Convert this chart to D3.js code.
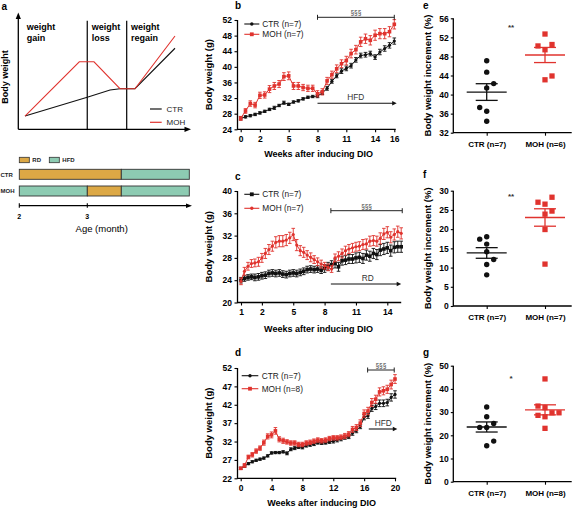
<!DOCTYPE html>
<html><head><meta charset="utf-8">
<script src="https://cdn.jsdelivr.net/npm/d3@7"></script>
<style>body{margin:0;background:#fff}svg{display:block}</style>
</head><body><svg id="c" width="576" height="508"></svg>
<script>
// ---------------- DATA ----------------
// panel a (schematic)
const schemCtrT = [0, 4.15, 5.67, 6.33, 7.33, 10];
const schemCtrW = [1.16, 2.8, 3.44, 3.55, 3.55, 7.09];
const schemMohT = [0, 3.62, 4.6, 6.33, 7.33, 10];
const schemMohW = [1.16, 5.91, 5.91, 3.55, 3.55, 8.16];
const phaseBounds = [4.15, 6.78];
const phaseLabels = [["weight","gain"],["weight","loss"],["weight","regain"]];
const monthTicks = [2, 3];
const dietCtr = [{diet:"RD",from:2,to:3.5},{diet:"HFD",from:3.5,to:4.5}];
const dietMoh = [{diet:"HFD",from:2,to:3},{diet:"RD",from:3,to:3.5},{diet:"HFD",from:3.5,to:4.5}];

// panel b
const bWeeks = [0,0.5,1,1.5,2,2.5,3,3.5,4,4.5,5,5.5,6,6.5,7,7.5,8,8.5,9,9.5,10,10.5,11,11.5,12,12.5,13,13.5,14,14.5,15,15.5,16];
const bCtr = [26.8,27.2,27.5,27.8,28.2,28.6,29.1,29.5,30.1,30.8,30.4,31.0,31.3,31.8,32.2,32.4,32.5,33.3,34.5,36.3,37.7,38.9,39.6,40.3,41.8,42.9,43.1,43.4,42.5,43.8,44.7,45.5,46.6];
const bCtrSem = [0.4,0.3,0.3,0.3,0.3,0.3,0.3,0.4,0.3,0.4,0.3,0.3,0.3,0.3,0.3,0.3,0.4,0.4,0.5,0.5,0.5,0.6,0.6,0.6,0.6,0.6,0.6,0.6,0.6,0.7,0.7,0.7,0.8];
const bMoh = [26.8,28.7,30.6,30.2,32.7,32.8,34.3,35.1,35.6,37.5,37.7,35.1,35.1,34.7,34.5,34.5,33.1,33.6,36.4,38.0,39.5,40.8,41.6,43.4,44.4,46.4,47.2,46.8,48.1,48.5,48.5,49.0,50.9];
const bMohSem = [0.5,0.6,0.7,0.7,0.8,0.8,0.9,0.9,0.9,1.0,1.0,0.9,0.9,0.8,0.8,0.8,0.8,0.8,0.9,0.9,1.0,1.0,1.1,1.1,1.1,1.2,1.2,1.2,1.3,1.3,1.3,1.3,1.2];
const bXTicks = [0,2,5,8,11,14,16];
const bXLabels = ["0","2","5","8","11","14","16"];
const bYTicks = [24,28,32,36,40,44,48,52];

// panel c
const cWeeks = [0,0.33,0.67,1,1.33,1.67,2,2.33,2.67,3,3.33,3.67,4,4.33,4.67,5,5.33,5.67,6,6.33,6.67,7,7.33,7.67,8,8.33,8.67,9,9.33,9.67,10,10.33,10.67,11,11.33,11.67,12,12.33,12.67,13,13.33,13.67,14,14.33,14.67,15,15.33];
const cCtr = [24.0,24.3,24.5,24.6,24.5,24.6,24.8,24.9,25.2,25.3,25.2,25.3,25.1,25.0,25.2,25.3,25.2,25.4,25.6,25.9,26.0,25.9,26.0,25.8,26.1,26.5,26.8,27.0,26.4,27.5,27.6,27.8,27.8,28.0,28.1,27.9,28.5,28.3,28.8,28.6,29.4,29.6,29.8,29.3,29.9,30.0,30.0];
const cCtrSem = [0.5,0.5,0.5,0.5,0.6,0.6,0.6,0.6,0.6,0.6,0.6,0.6,0.6,0.6,0.6,0.6,0.6,0.6,0.6,0.6,0.6,0.6,0.6,0.6,0.7,0.7,0.7,0.8,0.8,0.8,0.8,0.8,0.8,0.9,0.9,0.9,0.9,0.9,0.9,0.9,1.0,1.0,1.0,1.0,1.0,1.0,1.0];
const cMoh = [23.8,25.6,26.5,27.0,27.1,27.3,28.0,28.8,29.5,30.1,30.8,31.0,31.0,31.2,31.6,32.2,30.3,29.3,29.0,28.5,28.1,27.7,27.3,26.9,26.6,26.3,26.0,28.0,28.3,28.8,29.3,29.6,29.8,30.0,30.1,30.4,30.5,31.0,31.1,31.0,31.5,32.3,32.6,31.7,32.2,32.7,32.4];
const cMohSem = [0.6,0.7,0.7,0.7,0.7,0.8,0.8,0.9,0.9,0.9,1.0,1.0,1.0,1.0,1.0,1.1,1.0,0.9,0.9,0.8,0.8,0.7,0.7,0.7,0.6,0.6,0.6,0.7,0.8,0.8,0.8,0.8,0.8,0.8,0.8,0.9,0.9,0.9,0.9,0.9,1.0,1.0,1.0,1.0,1.0,1.0,1.0];
const cXTicks = [0,2,5,8,11,14];
const cXLabels = ["1","2","5","8","11","14"];
const cYTicks = [20,24,28,32,36,40];

// panel d
const dWeeks = [0,0.5,1,1.5,2,2.5,3,3.5,4,4.5,5,5.5,6,6.5,7,7.5,8,8.5,9,9.5,10,10.5,11,11.5,12,12.5,13,13.5,14,14.5,15,15.5,16,16.5,17,17.5,18,18.5,19,19.5,20];
const dCtr = [24.7,25.3,26.0,26.5,26.9,27.2,27.5,28.1,28.9,29.0,29.0,29.2,28.8,29.9,30.2,30.5,30.4,30.9,31.1,31.3,31.7,31.6,31.7,31.9,32.1,32.4,32.7,33.1,33.3,34.3,35.0,36.1,38.6,39.0,41.0,41.5,42.4,42.4,42.6,44.0,44.8];
const dCtrSem = [0.3,0.3,0.3,0.3,0.3,0.3,0.3,0.3,0.3,0.3,0.3,0.3,0.4,0.4,0.4,0.4,0.4,0.4,0.4,0.4,0.4,0.4,0.4,0.4,0.5,0.5,0.5,0.5,0.5,0.6,0.6,0.6,0.7,0.7,0.8,0.8,0.9,0.9,0.9,1.0,1.0];
const dMoh = [24.7,25.5,27.8,28.4,29.4,30.2,31.7,33.4,33.8,34.9,32.6,32.2,31.9,31.6,31.6,31.2,31.2,31.6,31.8,32.1,32.4,32.2,32.4,32.8,33.0,33.0,33.2,33.5,34.0,35.3,35.8,37.0,39.6,40.3,42.6,43.5,45.5,45.8,46.2,47.5,49.0];
const dMohSem = [0.3,0.5,0.5,0.6,0.6,0.6,0.7,0.7,0.8,0.9,0.7,0.7,0.6,0.6,0.6,0.6,0.6,0.6,0.6,0.6,0.6,0.6,0.6,0.6,0.6,0.6,0.6,0.7,0.7,0.8,0.8,0.9,1.0,1.0,1.1,1.1,1.1,1.1,1.1,1.2,1.2];
const dXTicks = [0,4,8,12,16,20];
const dXLabels = ["0","4","8","12","16","20"];
const dYTicks = [22,27,32,37,42,47,52];

// panels e, f, g (individual animals, % increment)
const eCtr = [34.4,36.5,41.4,42.3,37.3,44.7,47.1];
const eMoh = [43.1,43.9,49.4,50.2,50.5,52.7];
const eYTicks = [32,36,40,44,48,52,56];
const fCtr = [8.1,10.8,14.1,16.1,18.0,12.1,17.4];
const fMoh = [23.9,24.7,26.5,27.0,28.3,19.9,10.9];
const fYTicks = [0,5,10,15,20,25,30];
const gCtr = [15.5,23.4,25.1,23.4,17.5,28.0,32.2];
const gMoh = [23.0,28.0,29.7,28.6,29.7,31.9,32.6,44.3];
const gYTicks = [0,10,20,30,40,50];

// ---------------- DRAWING ----------------
const FONT = '"Liberation Sans", Arial, Helvetica, sans-serif';
const RED = "#e0332e", BLK = "#111111";
const RD_COL = "#dca845", HFD_COL = "#8dcbb2";
const svg = d3.select("#c");
svg.append("rect").attr("width",576).attr("height",508).attr("fill","#fff");

function T(g, x, y, s, o={}) {
  return g.append("text").attr("x",x).attr("y",y).text(s)
    .attr("font-family",FONT).attr("font-size",o.size||9)
    .attr("font-weight",o.bold?"bold":"normal")
    .attr("text-anchor",o.anchor||"start")
    .attr("fill",o.fill||"#000")
    .attr("transform",o.rot?`rotate(-90,${x},${y})`:null);
}
function L(g,x1,y1,x2,y2,c="#000",w=1.2){
  return g.append("line").attr("x1",x1).attr("y1",y1).attr("x2",x2).attr("y2",y2).attr("stroke",c).attr("stroke-width",w);
}
function marker(g, shape, cx, cy, color, s){
  if(shape==="square") g.append("rect").attr("x",cx-s/2).attr("y",cy-s/2).attr("width",s).attr("height",s).attr("fill",color);
  else g.append("circle").attr("cx",cx).attr("cy",cy).attr("r",s/2).attr("fill",color);
}

// ===== Panel a =====
(function(){
  const g = svg.append("g");
  T(g,1.5,10,"a",{size:10,bold:true});
  const xa = d3.scaleLinear().domain([0,10]).range([25,175]);
  const ya = d3.scaleLinear().domain([0,10]).range([129.3,15]);
  const ax0 = 18.3, ay0 = 129.3;
  L(g,ax0,ay0,ax0,18,"#000",1.3);
  L(g,ax0,ay0,186,ay0,"#000",1.3);
  g.append("path").attr("d",`M${ax0},12.5 L${ax0-2.6},19 L${ax0+2.6},19 Z`).attr("fill","#000");
  g.append("path").attr("d",`M191,${ay0} L184.5,${ay0-2.6} L184.5,${ay0+2.6} Z`).attr("fill","#000");
  phaseBounds.forEach(b=>L(g,xa(b),20.7,xa(b),ay0,"#000",1.2));
  phaseLabels.forEach((pl,i)=>{
    const x = i===0 ? ax0+8.4 : xa(phaseBounds[i-1])+4.4;
    T(g,x,29.5,pl[0],{size:9,bold:true});
    T(g,x,40.5,pl[1],{size:9,bold:true});
  });
  T(g,7.8,77,"Body weight",{size:9,bold:true,anchor:"middle",rot:true});
  const line = d3.line().x(d=>xa(d[0])).y(d=>ya(d[1]));
  g.append("path").attr("d",line(d3.zip(schemCtrT,schemCtrW))).attr("fill","none").attr("stroke",BLK).attr("stroke-width",1.1);
  g.append("path").attr("d",line(d3.zip(schemMohT,schemMohW))).attr("fill","none").attr("stroke",RED).attr("stroke-width",1.1);
  L(g,150,109,161.7,109,BLK,1.2); T(g,166.5,112,"CTR",{size:8,fill:"#222"});
  L(g,150,122.3,161.7,122.3,RED,1.2); T(g,166.5,125.3,"MOH",{size:8,fill:"#222"});

  // diet timeline
  const xm = d3.scaleLinear().domain([2,3]).range([19.3,87.3]);
  const col = {RD:RD_COL,HFD:HFD_COL};
  g.append("rect").attr("x",19.3).attr("y",157.3).attr("width",10).attr("height",5.4).attr("fill",RD_COL).attr("stroke","#333").attr("stroke-width",0.8);
  T(g,32.3,162.3,"RD",{size:6,bold:true,fill:"#222"});
  g.append("rect").attr("x",49.3).attr("y",157.3).attr("width",10).attr("height",5.4).attr("fill",HFD_COL).attr("stroke","#333").attr("stroke-width",0.8);
  T(g,62.3,162.3,"HFD",{size:6,bold:true,fill:"#222"});
  [[dietCtr,169.3,"CTR"],[dietMoh,186,"MOH"]].forEach(([segs,y0,lab])=>{
    segs.forEach(s=>g.append("rect").attr("x",xm(s.from)).attr("y",y0).attr("width",xm(s.to)-xm(s.from)).attr("height",10)
      .attr("fill",col[s.diet]).attr("stroke","#333").attr("stroke-width",0.9));
    T(g,0.5,y0+7.2,lab,{size:6,bold:true,fill:"#222"});
  });
  const ty = 205.7;
  L(g,xm(2),ty,187,ty,"#000",1.2);
  g.append("path").attr("d",`M192,${ty} L186,${ty-2.3} L186,${ty+2.3} Z`).attr("fill","#000");
  monthTicks.forEach(m=>{ L(g,xm(m),ty-2.5,xm(m),ty+2,"#000",1.1); T(g,xm(m),218.5,String(m),{size:7,bold:true,anchor:"middle"}); });
  T(g,101.7,232.3,"Age (month)",{size:9.5,anchor:"middle"});
})();

// ===== time-course panels =====
function timeCourse(p){
  const g = svg.append("g");
  const x = d3.scaleLinear().domain(p.xDomain).range(p.xRange);
  const y = d3.scaleLinear().domain(p.yDomain).range(p.yRange);
  const ax = 237.5, base = y(p.yDomain[0]), top = y(p.yDomain[1]);
  T(g,p.labelX,p.labelY,p.label,{size:10,bold:true});
  const ya = g.append("g").attr("transform",`translate(${ax},0)`)
    .call(d3.axisLeft(y).tickValues(p.yTicks).tickSize(3).tickPadding(2.5).tickFormat(d3.format("d")));
  const xa = g.append("g").attr("transform",`translate(0,${base})`)
    .call(d3.axisBottom(x).tickValues(p.xTicks).tickSize(3).tickPadding(3.5).tickFormat((d,i)=>p.xLabels[i]));
  [ya,xa].forEach(a=>{a.select(".domain").remove();
    a.attr("font-family",FONT).attr("font-size",8.5).attr("font-weight","bold").attr("color","#000");
    a.selectAll(".tick line").attr("stroke-width",1.1);});
  L(g,ax,top,ax,base+0.6,"#000",1.3);
  L(g,ax,base,x(p.xEnd),base,"#000",1.3);
  T(g,212,(top+base)/2,"Body weight (g)",{size:9.5,bold:true,anchor:"middle",rot:true});
  T(g,p.titleX,p.titleY,"Weeks after inducing DIO",{size:9,bold:true,anchor:"middle"});
  p.series.forEach(s=>{
    const pts = d3.zip(s.x,s.y,s.sem);
    const sg = g.append("g");
    sg.append("path").attr("d",d3.line().x(d=>x(d[0])).y(d=>y(d[1]))(pts)).attr("fill","none").attr("stroke",s.color).attr("stroke-width",1);
    pts.forEach(d=>{
      const cx=x(d[0]), y1=y(d[1]-d[2]), y2=y(d[1]+d[2]);
      L(sg,cx,y1,cx,y2,s.color,0.9); L(sg,cx-1.8,y1,cx+1.8,y1,s.color,0.9); L(sg,cx-1.8,y2,cx+1.8,y2,s.color,0.9);
      marker(sg,s.shape,cx,y(d[1]),s.color,s.shape==="square"?3.6:3.2);
    });
  });
  p.series.forEach((s,i)=>{
    const ly = p.legend.ys[i];
    L(g,p.legend.x1,ly,p.legend.x2,ly,s.color,1.1);
    marker(g,s.shape,(p.legend.x1+p.legend.x2)/2,ly,s.color,s.shape==="square"?3.8:3.4);
    T(g,p.legend.tx,ly+3,s.name,{size:8.3,fill:"#222"});
  });
  const bk = p.bracket, bx1=x(bk.from), bx2=x(bk.to);
  L(g,bx1,bk.y,bx2,bk.y,"#222",1); L(g,bx1,bk.y-2.5,bx1,bk.y+2.5,"#222",1); L(g,bx2,bk.y-2.5,bx2,bk.y+2.5,"#222",1);
  T(g,(bx1+bx2)/2,bk.y-2.2,"§§§",{size:6.5,anchor:"middle",fill:"#444"});
  const ar = p.arrow, a1=x(ar.from), a2=x(ar.to);
  L(g,a1,ar.y,a2-3,ar.y,"#111",1.1);
  g.append("path").attr("d",`M${a2},${ar.y} L${a2-4.5},${ar.y-2.2} L${a2-4.5},${ar.y+2.2} Z`).attr("fill","#111");
  T(g,ar.tx,ar.y-3,ar.label,{size:8.3,anchor:"middle",fill:"#333"});
}

timeCourse({label:"b",labelX:235,labelY:8.5,
  xDomain:[0,16],xRange:[240.7,394.3],yDomain:[24,52],yRange:[129.3,20],xEnd:16.15,
  xTicks:bXTicks,xLabels:bXLabels,yTicks:bYTicks,titleX:318.7,titleY:157.2,
  series:[{name:"CTR (n=7)",x:bWeeks,y:bCtr,sem:bCtrSem,color:BLK,shape:"circle"},
          {name:"MOH (n=7)",x:bWeeks,y:bMoh,sem:bMohSem,color:RED,shape:"square"}],
  legend:{x1:244.3,x2:259.3,tx:262.3,ys:[24,34.3]},
  bracket:{from:8,to:16,y:17.3},
  arrow:{from:8,to:16.25,y:103.3,label:"HFD",tx:355.7}
});
timeCourse({label:"c",labelX:235,labelY:179.5,
  xDomain:[0,15.33],xRange:[241,401.2],yDomain:[20,40],yRange:[302.5,191],xEnd:15.33,
  xTicks:cXTicks,xLabels:cXLabels,yTicks:cYTicks,titleX:318.5,titleY:331.5,
  series:[{name:"CTR (n=7)",x:cWeeks,y:cCtr,sem:cCtrSem,color:BLK,shape:"square"},
          {name:"MOH (n=7)",x:cWeeks,y:cMoh,sem:cMohSem,color:RED,shape:"circle"}],
  legend:{x1:244.3,x2:259.3,tx:262.3,ys:[194.3,208.3]},
  bracket:{from:8.6,to:15.43,y:210.7},
  arrow:{from:8.6,to:15.33,y:284,label:"RD",tx:367.7}
});
timeCourse({label:"d",labelX:235,labelY:355.7,
  xDomain:[0,20],xRange:[240.7,395],yDomain:[22,52],yRange:[478.3,368],xEnd:20.15,
  xTicks:dXTicks,xLabels:dXLabels,yTicks:dYTicks,titleX:321.7,titleY:505.5,
  series:[{name:"CTR (n=7)",x:dWeeks,y:dCtr,sem:dCtrSem,color:BLK,shape:"circle"},
          {name:"MOH (n=8)",x:dWeeks,y:dMoh,sem:dMohSem,color:RED,shape:"square"}],
  legend:{x1:241.7,x2:258.3,tx:261.7,ys:[375.7,388.7]},
  bracket:{from:16.45,to:19.9,y:370},
  arrow:{from:16.6,to:20.3,y:429,label:"HFD",tx:383.3}
});

// ===== scatter panels =====
function swarm(vals, y, d, thr){
  const placed=[]; let Lc=0,Rc=0;
  return vals.map(v=>{
    const py=y(v), pref=(Rc<=Lc)?1:-1, cands=[0];
    for(let k=1;k<=3;k++) cands.push(pref*k*d,-pref*k*d);
    for(const dx of cands){
      if(placed.every(q=>Math.hypot(q.dx-dx,q.py-py)>=thr)){
        placed.push({dx,py}); if(dx>0)Rc++; else if(dx<0)Lc++; return dx;
      }
    }
    return 0;
  });
}
function scatter(p){
  const g = svg.append("g");
  const y = d3.scaleLinear().domain(p.yDomain).range(p.yRange);
  const x = d3.scalePoint().domain(p.groups.map(d=>d.name)).range([486.7,545]);
  const ax=453.3, base=y(p.yDomain[0]), top=y(p.yDomain[1]);
  T(g,423,p.labelY,p.label,{size:10,bold:true});
  const ya = g.append("g").attr("transform",`translate(${ax},0)`)
    .call(d3.axisLeft(y).tickValues(p.yTicks).tickSize(2.5).tickPadding(2).tickFormat(d3.format("d")));
  const xa = g.append("g").attr("transform",`translate(0,${base})`)
    .call(d3.axisBottom(x).tickSize(3).tickPadding(5.5));
  [ya,xa].forEach(a=>{a.select(".domain").remove();
    a.attr("font-family",FONT).attr("font-size",8.5).attr("font-weight","bold").attr("color","#000");
    a.selectAll(".tick line").attr("stroke-width",1.1);});
  xa.selectAll("text").attr("font-size",8);
  L(g,ax,top,ax,base+0.6,"#000",1.3);
  L(g,ax,base,571.7,base,"#000",1.3);
  T(g,431,(top+base)/2,"Body weight increment (%)",{size:9.5,bold:true,anchor:"middle",rot:true});
  p.groups.forEach(gr=>{
    const cx=x(gr.name), offs=swarm(gr.values,y,7,7);
    gr.values.forEach((v,i)=>marker(g,gr.shape,cx+offs[i],y(v),gr.color,gr.shape==="square"?5.3:5.4));
    const m=d3.mean(gr.values), se=d3.deviation(gr.values)/Math.sqrt(gr.values.length);
    L(g,cx-20,y(m),cx+20,y(m),gr.color,1.3);
    L(g,cx-11,y(m+se),cx+11,y(m+se),gr.color,1.3);
    L(g,cx-11,y(m-se),cx+11,y(m-se),gr.color,1.3);
    L(g,cx,y(m+se),cx,y(m-se),gr.color,1.3);
  });
  T(g,511,p.sigY,p.sig,{size:8,bold:true,anchor:"middle",fill:"#333"});
}
scatter({label:"e",labelY:8.5,yDomain:[32,56],yRange:[132.7,18.3],yTicks:eYTicks,sig:"**",sigY:29.5,
  groups:[{name:"CTR (n=7)",values:eCtr,color:BLK,shape:"circle"},{name:"MOH (n=6)",values:eMoh,color:RED,shape:"square"}]});
scatter({label:"f",labelY:178.3,yDomain:[0,30],yRange:[306,190.7],yTicks:fYTicks,sig:"**",sigY:198.5,
  groups:[{name:"CTR (n=7)",values:fCtr,color:BLK,shape:"circle"},{name:"MOH (n=7)",values:fMoh,color:RED,shape:"square"}]});
scatter({label:"g",labelY:356,yDomain:[0,50],yRange:[481.7,365.7],yTicks:gYTicks,sig:"*",sigY:381,
  groups:[{name:"CTR (n=7)",values:gCtr,color:BLK,shape:"circle"},{name:"MOH (n=8)",values:gMoh,color:RED,shape:"square"}]});
</script></body></html>
